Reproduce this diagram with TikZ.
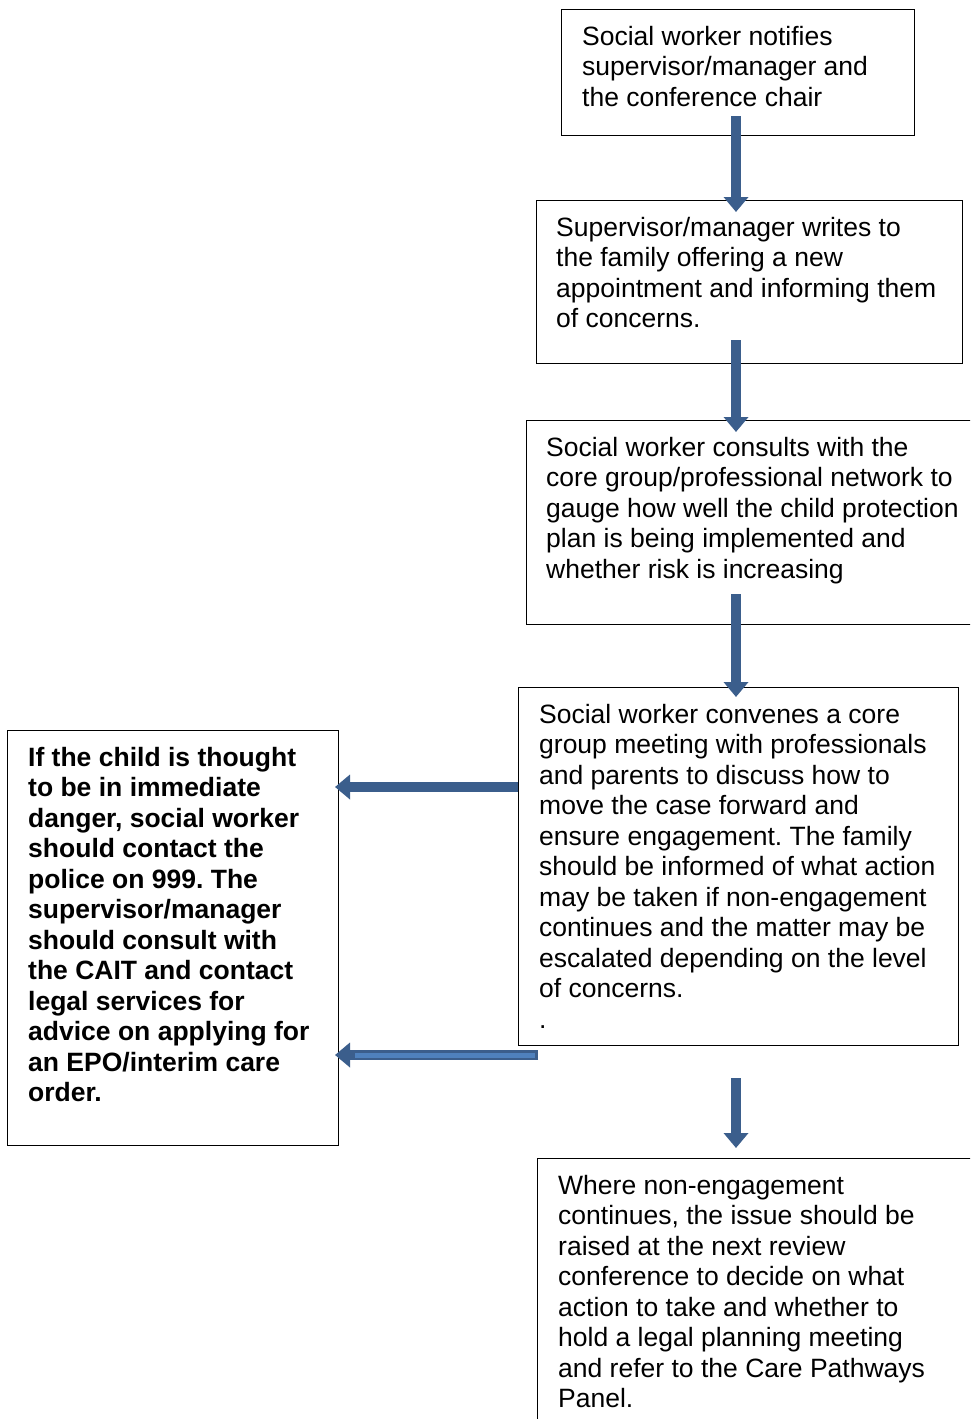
\documentclass[tikz,border=0pt]{standalone}
\usepackage{fontspec}
\setmainfont{Liberation Sans}
\usetikzlibrary{arrows.meta,calc}
\definecolor{arrdark}{RGB}{59,94,140}
\definecolor{arrlight}{RGB}{79,129,189}
\frenchspacing
\begin{document}
\begin{tikzpicture}[x=1pt,y=-1pt,
  box/.style={draw=black,line width=1.4pt,anchor=north west,inner sep=0pt},
  txt/.style={anchor=north west,inner sep=0pt,align=left,font=\fontsize{26.5}{30.5}\selectfont},
  flow/.style={draw=arrdark,line width=10pt,-{Triangle[width=24pt,length=15pt]}},
]
\useasboundingbox (0,0) rectangle (970,1419);
\clip (0,0) rectangle (970,1419);
\fill[white] (0,0) rectangle (970,1419);
% boxes
\node[box,minimum width=353pt,minimum height=126pt] (b1) at (561,9) {};
\node[box,minimum width=426pt,minimum height=163pt] (b2) at (536,200) {};
\node[box,minimum width=450pt,minimum height=204pt] (b3) at (526,420) {};
\node[box,minimum width=440pt,minimum height=358pt] (b4) at (518,687) {};
\node[box,minimum width=331pt,minimum height=415pt] (b5) at (7,730) {};
\node[box,minimum width=440pt,minimum height=270pt] (b6) at (537,1158) {};
% texts
\node[txt] (t1) at ($(b1.north west)+(21,17)$) {Social worker notifies\\supervisor/manager and\\the conference chair};
\node[txt] (t2) at ($(b2.north west)+(20,17)$) {Supervisor/manager writes to\\the family offering a new\\appointment and informing them\\of concerns.};
\node[txt] (t3) at ($(b3.north west)+(20,17)$) {Social worker consults with the\\core group/professional network to\\gauge how well the child protection\\plan is being implemented and\\whether risk is increasing};
\node[txt] (t4) at ($(b4.north west)+(21,17)$) {Social worker convenes a core\\group meeting with professionals\\and parents to discuss how to\\move the case forward and\\ensure engagement. The family\\should be informed of what action\\may be taken if non-engagement\\continues and the matter may be\\escalated depending on the level\\of concerns.\\.};
\node[txt,font=\fontsize{26.5}{30.5}\selectfont\bfseries] (t5) at ($(b5.north west)+(21,17)$) {If the child is thought\\to be in immediate\\danger, social worker\\should contact the\\police on 999. The\\supervisor/manager\\should consult with\\the CAIT and contact\\legal services for\\advice on applying for\\an EPO/interim care\\order.};
\node[txt] (t6) at ($(b6.north west)+(21,17)$) {Where non-engagement\\continues, the issue should be\\raised at the next review\\conference to decide on what\\action to take and whether to\\hold a legal planning meeting\\and refer to the Care Pathways\\Panel.};
% connector coordinates
\coordinate (a1s) at (736,116);
\coordinate (a1e) at (736,212);
\coordinate (a2s) at (736,340);
\coordinate (a2e) at (736,432);
\coordinate (a3s) at (736,594);
\coordinate (a3e) at (736,697);
\coordinate (a4s) at (736,1078);
\coordinate (a4e) at (736,1148);
\coordinate (l1s) at (518,787);
\coordinate (l1e) at (335,787);
\coordinate (l2s) at (538,1055);
\coordinate (l2e) at (335,1055);
\draw[flow] (a1s) -- (a1e);
\draw[flow] (a2s) -- (a2e);
\draw[flow] (a3s) -- (a3e);
\draw[flow] (a4s) -- (a4e);
\draw[flow] (l1s) -- (l1e);
\draw[flow] (l2s) -- (l2e);
\draw[draw=arrlight,line width=5pt] ($(l2s)+(-3,0)$) -- ($(l2e)+(20,0)$);
\end{tikzpicture}
\end{document}
